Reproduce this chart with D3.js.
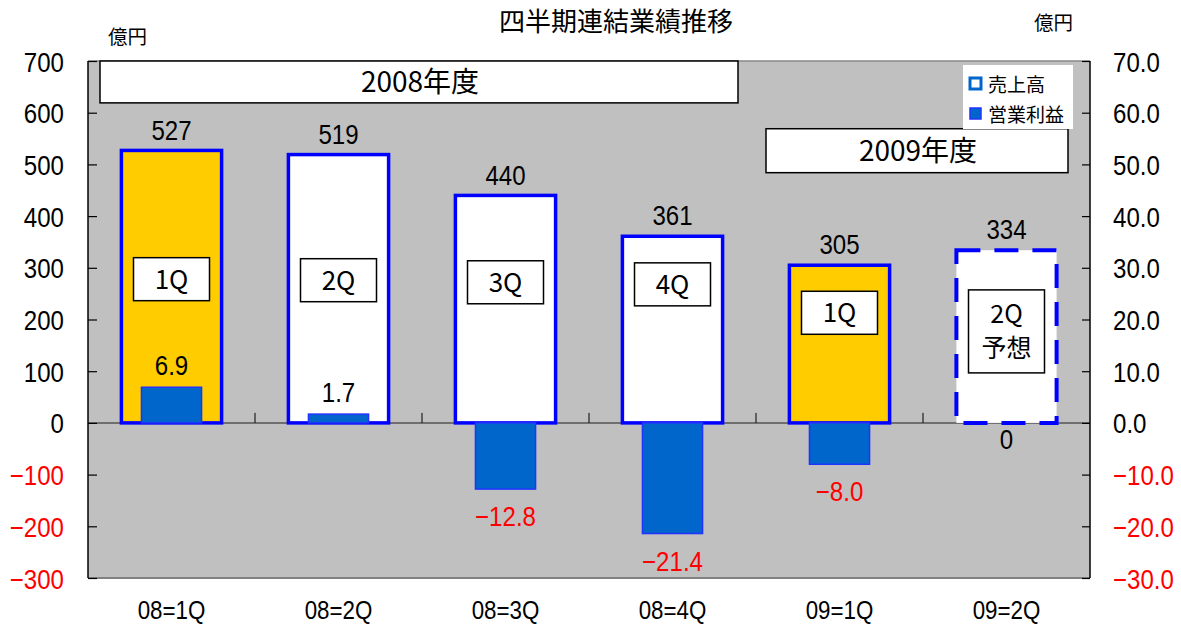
<!DOCTYPE html>
<html><head><meta charset="utf-8">
<script src="https://cdn.jsdelivr.net/npm/d3@7"></script>
<style>
body{margin:0;background:#fff;}
text{font-family:"Noto Sans CJK JP","Noto Sans",sans-serif;}
text.num{font-family:"Liberation Sans",Arial,sans-serif;}
</style></head>
<body><svg id="c" width="1181" height="626"></svg>
<script>
const categories = ["08=1Q","08=2Q","08=3Q","08=4Q","09=1Q","09=2Q"];
const sales = [527, 519, 440, 361, 305, 334];
const profit = [6.9, 1.7, -12.8, -21.4, -8.0, 0];
const profitLabels = ["6.9","1.7","-12.8","-21.4","-8.0","0"];
const quarterTags = ["1Q","2Q","3Q","4Q","1Q","2Q\n予想"];
const tagCenters = [278, 276, 272, 268, 213, 177];
const firstQuarter = [true,false,false,false,true,false];
const forecast = [false,false,false,false,false,true];
const leftTicks = [700,600,500,400,300,200,100,0,-100,-200,-300];
const rightTicks = [70,60,50,40,30,20,10,0,-10,-20,-30];
const legendItems = ["売上高","営業利益"];
const yearLabels = ["2008年度","2009年度"];

const svg = d3.select("#c");
const L = 88, R = 1090, T = 61, B = 578;
const x = d3.scaleBand().domain(categories).range([L, R]).paddingInner(0.4).paddingOuter(0.2);
const y = d3.scaleLinear().domain([-300, 700]).range([B, T]);
const y2 = d3.scaleLinear().domain([-30, 70]).range([B, T]);
const step = x.step();
const cx = c => x(c) + x.bandwidth()/2;
const SX = 0.86;

function num(px, py, txt, size, fill, anchor) {
  return svg.append("text").attr("class","num")
    .attr("transform", `translate(${px},${py}) scale(${SX},1)`)
    .attr("dy", "0.36em").attr("text-anchor", anchor || "middle")
    .attr("font-size", size).attr("fill", fill || "#000").text(txt);
}

// plot background
svg.append("rect").attr("x", L).attr("y", T).attr("width", R-L).attr("height", B-T).attr("fill", "#C0C0C0");
svg.append("line").attr("x1", L).attr("x2", R).attr("y1", T).attr("y2", T).attr("stroke", "#888").attr("stroke-width", 1.5);
svg.append("line").attr("x1", L).attr("x2", R).attr("y1", B).attr("y2", B).attr("stroke", "#808080").attr("stroke-width", 2);

// year boxes
svg.append("rect").attr("x", L+12).attr("y", y(700)).attr("width", 638).attr("height", y(619)-y(700))
  .attr("fill", "#fff").attr("stroke", "#000").attr("stroke-width", 1.5);
svg.append("text").attr("x", 420).attr("y", (y(700)+y(619))/2).attr("dy", "0.36em").attr("text-anchor", "middle")
  .attr("font-size", 28).text(yearLabels[0]);
svg.append("rect").attr("x", 766).attr("y", y(569)).attr("width", 302).attr("height", y(484)-y(569))
  .attr("fill", "#fff").attr("stroke", "#000").attr("stroke-width", 1.5);
svg.append("text").attr("x", 918).attr("y", (y(569)+y(484))/2).attr("dy", "0.36em").attr("text-anchor", "middle")
  .attr("font-size", 28).text(yearLabels[1]);

// zero line
svg.append("line").attr("x1", L).attr("x2", R).attr("y1", y(0)).attr("y2", y(0)).attr("stroke", "#555").attr("stroke-width", 1.5);
// category separators
categories.slice(1).forEach((c,i) => {
  const xx = L + step*(i+1);
  svg.append("line").attr("x1", xx).attr("x2", xx).attr("y1", y(0)).attr("y2", y(0)-10).attr("stroke", "#000").attr("stroke-width", 1);
});

// sales bars
categories.forEach((c,i) => {
  const r = svg.append("rect").attr("x", x(c)).attr("y", y(sales[i])).attr("width", x.bandwidth())
    .attr("height", y(0)-y(sales[i]))
    .attr("fill", firstQuarter[i] ? "#FFCC00" : "#fff")
    .attr("stroke", "#0000FF").attr("stroke-width", forecast[i] ? 4 : 3.5);
  if (forecast[i]) r.attr("stroke-dasharray", "24,14");
  num(cx(c), y(sales[i]) - 21, sales[i], 28);
});

// profit bars
const pw = step*0.36;
categories.forEach((c,i) => {
  const v = profit[i];
  if (v !== 0) {
    svg.append("rect").attr("x", cx(c)-pw/2).attr("y", y2(Math.max(v,0))).attr("width", pw)
      .attr("height", Math.abs(y2(v)-y2(0))).attr("fill", "#0066CC").attr("stroke", "#2233FF").attr("stroke-width", 1.5);
  }
  const ly = v > 0 ? y2(v) - 22 : (v < 0 ? y2(v) + 27 : y2(0) + 16);
  num(cx(c), ly, profitLabels[i].replace("-", "\u2212"), 28, v < 0 ? "#FF0000" : "#000");
});

// quarter tags
categories.forEach((c,i) => {
  const lines = quarterTags[i].split("\n");
  const h = lines.length > 1 ? 83 : 43, w = 76;
  const yc = y(tagCenters[i]);
  svg.append("rect").attr("x", cx(c)-w/2).attr("y", yc-h/2).attr("width", w).attr("height", h)
    .attr("fill", "#fff").attr("stroke", "#000").attr("stroke-width", 1.5);
  lines.forEach((t,k) => {
    svg.append("text").attr("x", cx(c)).attr("y", yc + (k - (lines.length-1)/2)*34).attr("dy", "0.36em")
      .attr("text-anchor", "middle").attr("font-size", lines.length > 1 ? 25 : 26).text(t);
  });
});

// axes
const ax = d3.axisLeft(y).tickValues(leftTicks).tickSize(-9).tickFormat(d => d<0 ? "\u2212"+Math.abs(d) : d);
const gl = svg.append("g").attr("transform", `translate(${L},0)`).call(ax);
gl.select(".domain").attr("stroke", "#000").attr("stroke-width", 1.5).attr("d", `M0,${T}V${B}`);
gl.selectAll(".tick line").attr("stroke", "#000").attr("stroke-width", 1.2);
gl.selectAll(".tick text").attr("class","num").attr("font-size", 28).attr("fill", d => d<0 ? "#FF0000" : "#000")
  .attr("x", -24/SX).attr("dy", "0.36em").attr("transform", `scale(${SX},1)`);

const ar = d3.axisRight(y2).tickValues(rightTicks).tickSize(-8).tickFormat(d => (d<0 ? "\u2212" : "") + Math.abs(d).toFixed(1));
const gr = svg.append("g").attr("transform", `translate(${R},0)`).call(ar);
gr.select(".domain").attr("stroke", "#000").attr("stroke-width", 1.5).attr("d", `M0,${T}V${B}`);
gr.selectAll(".tick line").attr("stroke", "#000").attr("stroke-width", 1.2);
gr.selectAll(".tick text").attr("class","num").attr("font-size", 28).attr("fill", d => d<0 ? "#FF0000" : "#000")
  .attr("x", 23/SX).attr("dy", "0.36em").attr("transform", `scale(${SX},1)`);

// category labels
categories.forEach(c => {
  num(cx(c), 610, c, 26);
});

// title and units
svg.append("text").attr("x", 616).attr("y", 22).attr("dy", "0.36em").attr("text-anchor", "middle").attr("font-size", 26).text("四半期連結業績推移");
svg.append("text").attr("x", 108).attr("y", 37).attr("dy", "0.36em").attr("font-size", 19.5).text("億円");
svg.append("text").attr("x", 1034).attr("y", 23).attr("dy", "0.36em").attr("font-size", 19.5).text("億円");

// legend
svg.append("rect").attr("x", 963).attr("y", 65).attr("width", 110).attr("height", 64).attr("fill", "#fff");
legendItems.forEach((t,i) => {
  const yy = 84 + i*30;
  svg.append("rect").attr("x", 970).attr("y", yy-6).attr("width", 11).attr("height", 11)
    .attr("fill", i===0 ? "#fff" : "#0066CC").attr("stroke", i===0 ? "#0066CC" : "#2233FF").attr("stroke-width", i===0 ? 3 : 1.5);
  svg.append("text").attr("x", 988).attr("y", yy+1).attr("dy", "0.36em").attr("font-size", 19).text(t);
});
</script></body></html>
